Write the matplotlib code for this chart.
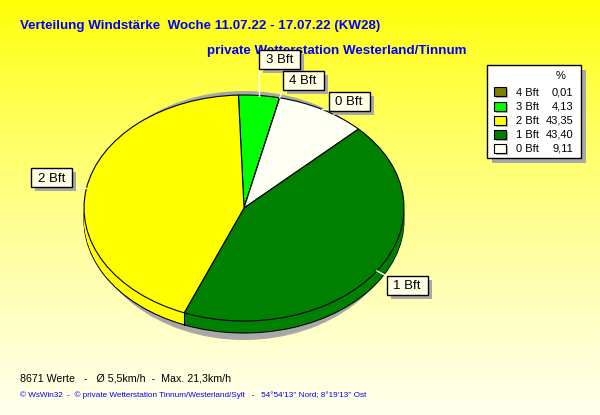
import matplotlib
matplotlib.use('Agg')
import matplotlib.pyplot as plt
import numpy as np
from matplotlib.patches import Rectangle, Ellipse

# ---- data ----
categories = ['3 Bft', '4 Bft', '0 Bft', '1 Bft', '2 Bft']
values = [4.13, 0.01, 9.11, 43.40, 43.35]
colors = ['#00FF00', '#808000', '#FFFFF4', '#008000', '#FFFF00']
legend_order = ['4 Bft', '3 Bft', '2 Bft', '1 Bft', '0 Bft']

title = 'Verteilung Windstärke  Woche 11.07.22 - 17.07.22 (KW28)'
subtitle = 'private Wetterstation Westerland/Tinnum'
footer1 = '8671 Werte   -   Ø 5,5km/h  -  Max. 21,3km/h'
footer2 = "© WsWin32  -  © private Wetterstation Tinnum/Westerland/Sylt   -   54°54'13'' Nord; 8°19'13'' Ost"

# label box centres (pixels)
label_pos = {'3 Bft': (279.5, 59.5), '4 Bft': (303, 80.5), '0 Bft': (349, 101.5),
             '2 Bft': (51.5, 178), '1 Bft': (407, 285.5)}

plt.rcParams['font.family'] = ['Liberation Sans', 'DejaVu Sans']

W, H = 600, 415
fig = plt.figure(figsize=(6, 4.15), dpi=100)

# background gradient
bg = fig.add_axes([0, 0, 1, 1])
g = np.linspace(0, 1, H) ** 0.8
img = np.ones((H, 1, 3))
img[:, 0, 2] = g * 0.94
bg.imshow(img, aspect='auto', extent=[0, W, H, 0])
bg.set_xlim(0, W); bg.set_ylim(H, 0); bg.axis('off')

# pie axes geometry (pixels)
cx, cy, rx, ry, depth = 244, 208, 160, 113, 12
L, R, T, B = 60, 430, 80, 352
ax = fig.add_axes([L / W, (H - B) / H, (R - L) / W, (B - T) / H])
d = depth / ry

ax.add_patch(Ellipse((0, -(215.5 - cy) / ry), width=2 * 158 / rx, height=2 * 124.5 / ry,
                     facecolor='#A8A8A8', edgecolor='none', zorder=0))
for k in range(depth, -1, -1):
    lw = 0.8 if (k == depth or k == 0) else 0
    ax.pie(values, colors=colors, startangle=92, counterclock=False, radius=1,
           center=(0, -k / ry),
           wedgeprops=dict(linewidth=lw, edgecolor='black', antialiased=True))

# vertical side edges at front boundaries
cum = np.cumsum([0] + values)
for c in cum[1:-1]:
    th = np.deg2rad(92 - c * 3.6)
    if np.sin(th) < 0:
        ax.plot([np.cos(th)] * 2, [np.sin(th), np.sin(th) - d], color='black', lw=0.8)

ax.set_xlim((L - cx) / rx, (R - cx) / rx)
ax.set_ylim(-(B - cy) / ry, (cy - T) / ry)
ax.set_aspect('auto')
ax.axis('off')

# overlay
ov = fig.add_axes([0, 0, 1, 1], facecolor='none')
ov.set_xlim(0, W); ov.set_ylim(H, 0); ov.axis('off')

blue = '#0000FF'
ov.text(20, 29, title, color=blue, fontsize=9.65, fontweight='bold', va='baseline', ha='left', zorder=1)
ov.text(207, 54, subtitle, color=blue, fontsize=9.6, fontweight='bold', va='baseline', ha='left', zorder=1)
ov.text(20, 381, footer1, color='black', fontsize=7.7, va='baseline', ha='left')
ov.text(20, 397, footer2, color=blue, fontsize=5.9, va='baseline', ha='left')

# slice labels
to_ov = ov.transData.inverted()
bw, bh = 41, 19
for i, cat in enumerate(categories):
    mid = np.deg2rad(92 - (cum[i] + values[i] / 2) * 3.6)
    ax_pt = ax.transData.transform((np.cos(mid), np.sin(mid)))
    axp = to_ov.transform(ax_pt)
    bx, by = label_pos[cat]
    x0, x1, y0, y1 = bx - bw / 2, bx + bw / 2, by - bh / 2, by + bh / 2
    px = min(max(axp[0], x0), x1)
    py = min(max(axp[1], y0), y1)
    ov.plot([axp[0], px], [axp[1], py], color='white', lw=1, zorder=3)
    ov.add_patch(Rectangle((x0 + 4, y0 + 4), bw, bh, facecolor='#A8A8A8', edgecolor='none', zorder=4))
    ov.add_patch(Rectangle((x0, y0), bw, bh, facecolor='#FFFFE6', edgecolor='black', lw=1, zorder=5))
    ov.text(bx, by + 0.5, cat, ha='center', va='center', fontsize=9.5, color='black', zorder=6)

# legend
lx0, ly0, lx1, ly1 = 487, 65, 581, 158
ov.add_patch(Rectangle((lx0 + 5, ly0 + 5), lx1 - lx0, ly1 - ly0, facecolor='#A8A8A8', edgecolor='none', zorder=4))
ov.add_patch(Rectangle((lx0, ly0), lx1 - lx0, ly1 - ly0, facecolor='white', edgecolor='black', lw=1, zorder=5))
ov.text(561, 76, '%', ha='center', va='center', fontsize=8, zorder=6)
cmap = dict(zip(categories, colors))
vmap = dict(zip(categories, values))
for j, cat in enumerate(legend_order):
    yy = 92.5 + j * 14.1
    ov.add_patch(Rectangle((496, yy - 3), 12, 9, facecolor='#B0B0B0', edgecolor='none', zorder=6))
    ov.add_patch(Rectangle((494, yy - 5), 12, 9, facecolor=cmap[cat], edgecolor='black', lw=0.8, zorder=7))
    ov.text(516, yy, cat, ha='left', va='center', fontsize=8, zorder=7)
    ov.text(573, yy, f'{vmap[cat]:.2f}'.replace('.', ','), ha='right', va='center', fontsize=8, zorder=7)

fig.savefig('out.png', dpi=100)
